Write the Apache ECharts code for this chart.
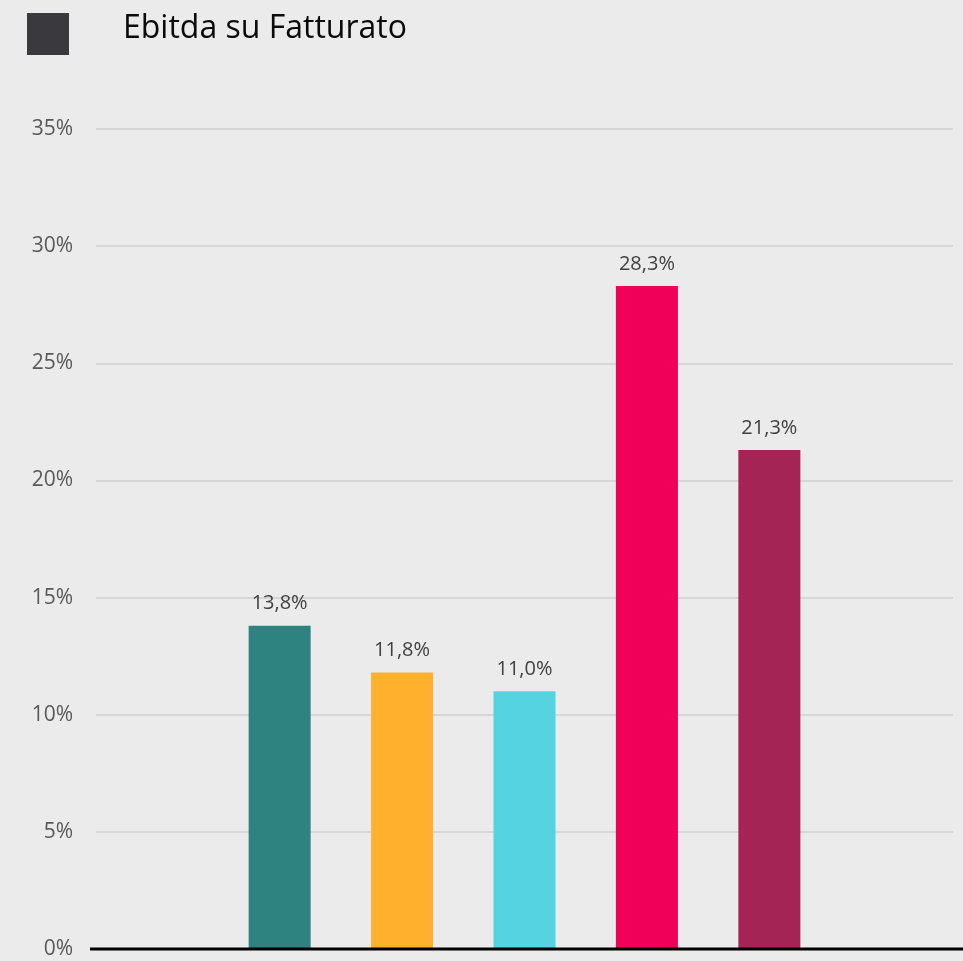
<!DOCTYPE html>
<html>
<head>
<meta charset="utf-8">
<script src="https://cdn.jsdelivr.net/npm/echarts@6/dist/echarts.min.js"></script>
<style>
html,body{margin:0;padding:0;background:#ebebeb;}
#chart{width:963px;height:961px;}
</style>
</head>
<body>
<div id="chart"></div>
<script>
const categories = ['', 'A', 'B', 'C', 'D', 'E', ''];
const values = [null, 13.8, 11.8, 11.0, 28.3, 21.3, null];
const barColors = ['#000000', '#2e8380', '#ffb12e', '#56d3e0', '#f00058', '#a52456', '#000000'];
const yTicks = [0, 5, 10, 15, 20, 25, 30, 35];
const titleText = 'Ebitda su Fatturato';

const chart = echarts.init(document.getElementById('chart'), null, {renderer: 'canvas'});
chart.setOption({
  backgroundColor: '#ebebeb',
  animation: false,
  title: {
    text: titleText,
    left: 118,
    top: 8,
    textStyle: {fontFamily: 'Open Sans', fontSize: 32, fontWeight: 'normal', color: '#0a0a0a'}
  },
  graphic: [
    {type: 'rect', shape: {x: 27, y: 13, width: 42, height: 42}, style: {fill: '#3a393e'}},
    {type: 'line', shape: {x1: 90, y1: 949, x2: 963, y2: 949}, style: {stroke: '#000000', lineWidth: 3}, z: 10}
  ],
  grid: {left: 96, right: 10, top: 129, bottom: 12, containLabel: false},
  xAxis: {
    type: 'category',
    data: categories,
    axisLine: {show: false},
    axisTick: {show: false},
    axisLabel: {show: false}
  },
  yAxis: {
    type: 'value',
    min: yTicks[0],
    max: yTicks[yTicks.length - 1],
    interval: 5,
    axisLine: {show: false},
    axisTick: {show: false},
    axisLabel: {
      formatter: v => v + '%',
      fontFamily: 'Open Sans',
      fontSize: 21,
      color: '#595959',
      margin: 23
    },
    splitLine: {lineStyle: {color: '#d6d6d6', width: 2}}
  },
  series: [{
    type: 'bar',
    data: values.map((v, i) => ({value: v, itemStyle: {color: barColors[i]}})),
    barWidth: 62,
    label: {
      show: true,
      position: 'top',
      distance: 12,
      fontFamily: 'Open Sans',
      fontSize: 20,
      color: '#404040',
      formatter: p => p.value == null ? '' : p.value.toFixed(1).replace('.', ',') + '%'
    }
  }]
});
</script>
</body>
</html>
